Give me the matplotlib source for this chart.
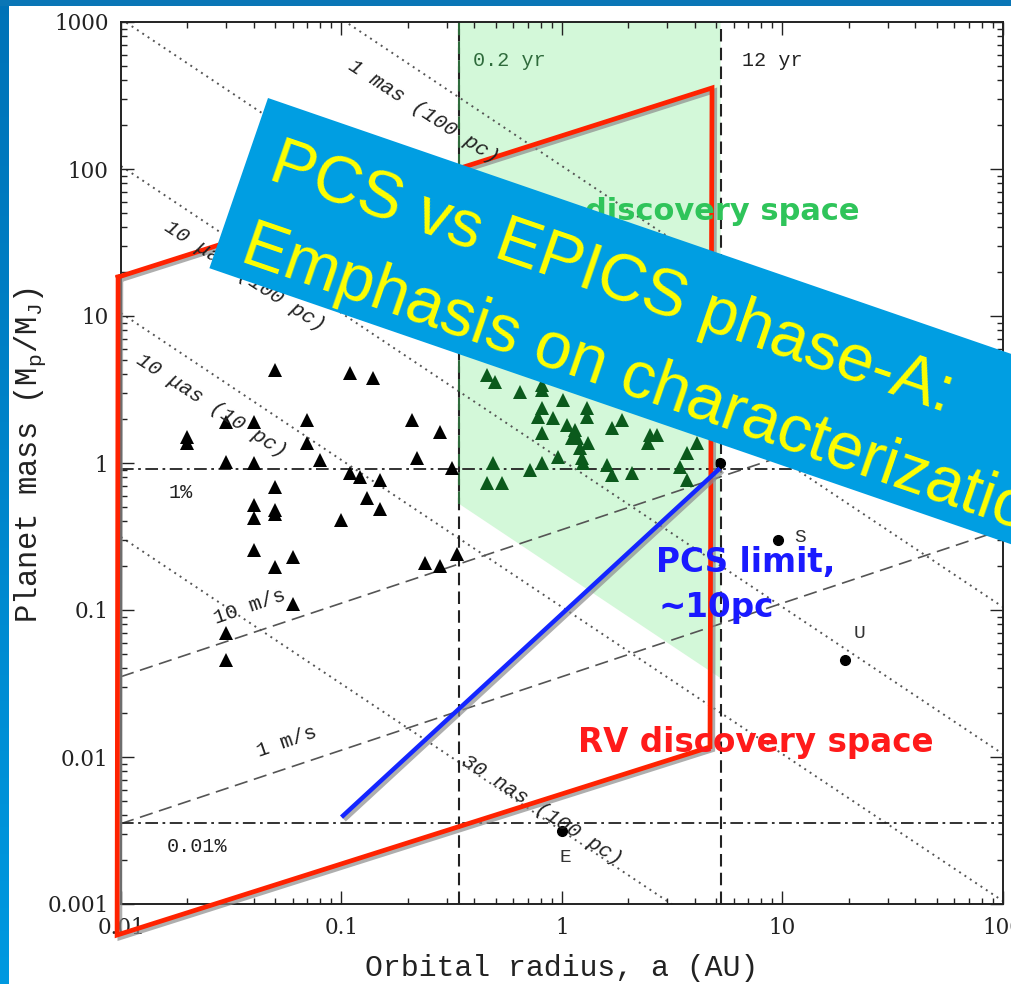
import matplotlib
matplotlib.use("Agg")
import matplotlib.pyplot as plt
import matplotlib.patheffects as pe
from matplotlib.patches import Polygon, Rectangle
import numpy as np

W, H = 1012, 984

# known exoplanets: orbital radius (AU), mass (M_J)
exo_a = [0.050, 0.109, 0.139, 0.030, 0.040, 0.070, 0.209, 0.28, 0.020, 0.020,
         0.070, 0.22, 0.030, 0.040, 0.080, 0.317, 0.109, 0.121, 0.15, 0.050,
         0.040, 0.050, 0.050, 0.13, 0.15, 0.040, 0.100, 0.040, 0.060, 0.050,
         0.24, 0.28, 0.335, 0.060, 0.030, 0.030,
         0.457, 0.497, 0.645, 0.81, 0.81, 1.01, 1.30, 1.30, 0.81, 0.78,
         0.91, 1.05, 1.15, 1.69, 1.87, 0.81, 1.17, 1.31, 2.5, 2.7,
         2.45, 0.486, 0.81, 0.716, 0.96, 1.21, 1.23, 1.24, 1.6, 1.69,
         2.07, 0.457, 0.535, 1.11, 3.69, 3.43, 3.7, 4.1]
exo_m = [4.3, 4.1, 3.8, 1.9, 1.9, 1.96, 1.96, 1.63, 1.5, 1.37,
         1.37, 1.08, 1.02, 1.0, 1.05, 0.92, 0.855, 0.80, 0.765, 0.69,
         0.52, 0.48, 0.45, 0.58, 0.49, 0.42, 0.41, 0.256, 0.23, 0.196,
         0.21, 0.20, 0.24, 0.11, 0.07, 0.046,
         3.97, 3.56, 3.04, 3.14, 3.4, 2.69, 2.37, 2.06, 2.37, 2.06,
         2.02, 1.82, 1.68, 1.73, 1.96, 1.6, 1.48, 1.37, 1.55, 1.55,
         1.37, 1.0, 1.0, 0.9, 1.1, 1.26, 1.08, 1.0, 0.97, 0.83,
         0.855, 0.73, 0.73, 1.48, 1.17, 0.94, 0.77, 1.37]

# solar system planets
solar_a = [1.0, 5.2, 9.54, 19.2]
solar_m = [0.00315, 1.0, 0.299, 0.046]
solar_names = ["E", "J", "S", "U"]

# reference curves
astro_ma = [104.7, 10.47, 1.047, 0.1047, 0.00314]   # M * a for astrometric signal
rv_k = [10.0, 1.0]                                    # m/s
contrast_m = [0.91, 0.00356]
contrast_labels = ["1%", "0.01%"]
period_a = [0.342, 5.24]
period_labels = ["0.2 yr", "12 yr"]
green_floor_ma = 0.18

# overlays
rv_space_a = [0.0097, 4.79, 4.69, 0.0096, 0.0097]
rv_space_m = [18.4, 356, 0.0117, 0.000615, 18.4]
pcs_a = [0.1, 5.2]
pcs_m = [0.0039, 0.92]


def fxy(px, py):
    return px / W, 1 - py / H


fig = plt.figure(figsize=(W / 100, H / 100), dpi=100, facecolor="white")
ax = fig.add_axes([121 / W, 80 / H, 882 / W, 882 / H])
ax.set_xscale("log")
ax.set_yscale("log")
ax.set_xlim(0.01, 100)
ax.set_ylim(0.001, 1000)

a_ends = np.array([0.01, 100.0])

# green discovery region
ga0, ga1 = period_a
green = Polygon([(ga0, 1000), (ga1, 1000), (ga1, green_floor_ma / ga1), (ga0, green_floor_ma / ga0)],
                closed=True, fc="#d3f8d9", ec="none", zorder=0.5)
ax.add_patch(green)

for c in astro_ma:
    ax.plot(a_ends, c / a_ends, color="#555555", lw=1.4, ls=(0, (1, 2.3)), zorder=1)
for k in rv_k:
    ax.plot(a_ends, k / 28.4 * np.sqrt(a_ends), color="#555555", lw=1.2, ls=(0, (8, 4)), zorder=1)
for m in contrast_m:
    ax.axhline(m, color="#222222", lw=1.3, ls=(0, (7, 2.5, 1.5, 2.5)), zorder=1)
for i, a in enumerate(period_a):
    ax.axvline(a, color="#222222", lw=1.5, ls=(0, (6, 3)), zorder=1)
# dark green part of the inner period line
ax.plot([period_a[0], period_a[0]], [green_floor_ma / period_a[0], 1000], color="#2f6b3c",
        lw=1.5, ls=(0, (6, 3)), zorder=1.1)

exo_a_arr = np.array(exo_a)
exo_m_arr = np.array(exo_m)
inside = (exo_a_arr > period_a[0]) & (exo_a_arr < period_a[1])
ax.plot(exo_a_arr[~inside], exo_m_arr[~inside], "^", color="black", ms=9.5, mew=0, zorder=3)
ax.plot(exo_a_arr[inside], exo_m_arr[inside], "^", color="#0b5a1c", ms=9.5, mew=0, zorder=3)
ax.plot(solar_a, solar_m, "o", color="black", ms=7, zorder=3)

ax.set_xticks([0.01, 0.1, 1, 10, 100])
ax.set_xticklabels(["0.01", "0.1", "1", "10", "100"])
ax.set_yticks([0.001, 0.01, 0.1, 1, 10, 100, 1000])
ax.set_yticklabels(["0.001", "0.01", "0.1", "1", "10", "100", "1000"])
ax.tick_params(which="both", direction="in", top=True, right=True, width=1, colors="#222222")
ax.tick_params(which="major", length=9.5, pad=9, labelsize=15.5)
ax.tick_params(which="minor", length=4.5)
for lab in ax.get_xticklabels() + ax.get_yticklabels():
    lab.set_fontfamily("DejaVu Serif")
    lab.set_clip_on(False)
for sp in ax.spines.values():
    sp.set_linewidth(1.4)
    sp.set_color("#222222")

shadow = [pe.SimpleLineShadow(offset=(2, -2), shadow_color="0.55", alpha=0.7), pe.Normal()]
ax.plot(rv_space_a, rv_space_m, color="#ff2200", lw=3.4, clip_on=False, zorder=5,
        solid_joinstyle="miter", path_effects=shadow)
ax.plot(pcs_a, pcs_m, color="#1426ff", lw=3.2, clip_on=False, zorder=5,
        solid_capstyle="butt", path_effects=shadow)

mono = "Liberation Mono"
line_labels = [("1 mas (100 pc)", 424, 112, -33), ("10 \u03bcas (100 pc)", 245, 276, -33),
               ("10 \u03bcas (10 pc)", 212, 406, -33), ("30 nas (100 pc)", 542, 810, -33),
               ("10 m/s", 250, 607, 19), ("1 m/s", 287, 742, 19)]
for txt, px, py, rot in line_labels:
    x, y = fxy(px, py)
    fig.text(x, y, txt, family=mono, fontsize=15, rotation=rot, rotation_mode="anchor",
             ha="center", va="center", color="#222222", style="italic" if "as" in txt else "normal",
             zorder=2)

for txt, (px, py) in zip(contrast_labels, [(181, 493), (197, 846)]):
    x, y = fxy(px, py)
    fig.text(x, y, txt, family=mono, fontsize=14.5, ha="center", va="center", color="#222222")
for txt, (px, py), col in zip(period_labels, [(473, 60), (742, 60)], ["#2f6b3c", "#222222"]):
    x, y = fxy(px, py)
    fig.text(x, y, txt, family=mono, fontsize=14.5, ha="left", va="center", color=col)
for name, (px, py) in zip(["E", "S", "U"], [(565, 858), (800, 537), (860, 633)]):
    x, y = fxy(px, py)
    fig.text(x, y, name, family=mono, fontsize=14, ha="center", va="center", color="#333333")

x, y = fxy(562, 968)
fig.text(x, y, "Orbital radius, a (AU)", family=mono, fontsize=21.5, ha="center", va="center",
         color="#222222")
x, y = fxy(30, 455)
fig.text(x, y, r"Planet mass (M$\mathregular{_p}$/M$\mathregular{_J}$)", family=mono, fontsize=22,
         rotation=90, ha="center", va="center", color="#222222")

# annotations
bold = dict(family="DejaVu Sans", fontweight="bold")
x, y = fxy(585, 220)
fig.text(x, y, "discovery space", color="#2fc45a", fontsize=22, ha="left", va="baseline", **bold)
x, y = fxy(578, 752)
fig.text(x, y, "RV discovery space", color="#ff1a1a", fontsize=23.5, ha="left", va="baseline", **bold)
x, y = fxy(656, 572)
fig.text(x, y, "PCS limit,", color="#1a1aff", fontsize=23.5, ha="left", va="baseline", **bold)
x, y = fxy(658, 617)
fig.text(x, y, "~10pc", color="#1a1aff", fontsize=23.5, ha="left", va="baseline", **bold)

# rotated title banner
ang = np.deg2rad(19)
u = np.array([np.cos(ang), np.sin(ang)])
n = np.array([-np.sin(ang), np.cos(ang)])
tl = np.array([268.0, 98.0])
bl = tl + 180 * n
tr = tl + 1150 * u
br = bl + 1150 * u
corners = [fxy(*p) for p in (tl, tr, br, bl)]
fig.add_artist(Polygon(corners, closed=True, transform=fig.transFigure, fc="#009ee2", ec="none",
                       zorder=10))
for txt, off in [("PCS vs EPICS phase-A:", 77), ("Emphasis on characterization", 164)]:
    p = tl + 25 * u + off * n
    x, y = fxy(*p)
    fig.text(x, y, txt, family="Liberation Sans", fontsize=47.5, color="#ffff00", rotation=-19,
             rotation_mode="anchor", ha="left", va="baseline", zorder=11)

# slide frame
fig.add_artist(Rectangle((0, 1 - 6 / H), 1, 6 / H, transform=fig.transFigure, fc="#0a76b6",
                         ec="none", zorder=12))
side = fig.add_axes([0, 0, 9 / W, 1 - 6 / H])
grad = np.linspace(0, 1, 256).reshape(-1, 1)
top_c = np.array([0.0, 0.45, 0.72])
bot_c = np.array([0.0, 0.60, 0.88])
side.imshow(top_c + grad[..., None] * (bot_c - top_c), aspect="auto")
side.set_axis_off()
side.set_zorder(12)

fig.savefig("out.png", dpi=100, facecolor="white")
